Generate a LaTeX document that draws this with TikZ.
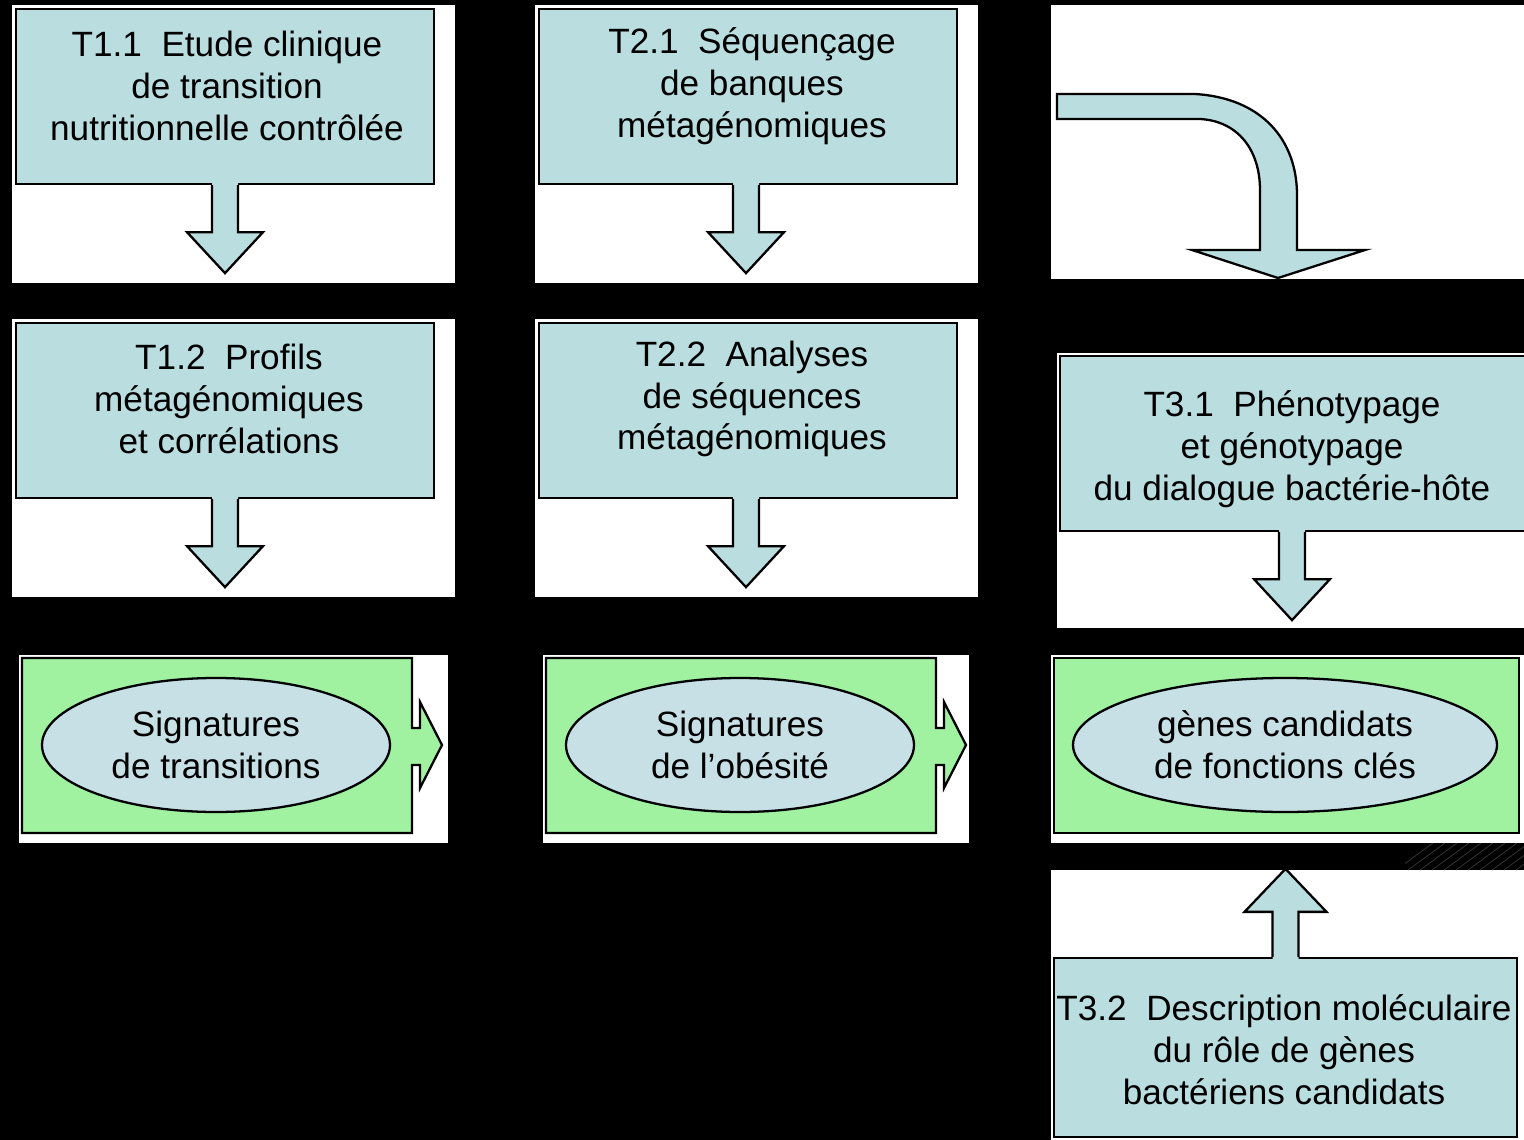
\documentclass[tikz,border=0pt]{standalone}
\usepackage{fontspec}
\setmainfont{Liberation Sans}
\usetikzlibrary{shapes.geometric}
\definecolor{taskblue}{RGB}{186,221,224}
\definecolor{siggreen}{RGB}{160,242,160}
\definecolor{ellblue}{RGB}{198,224,230}

\begin{document}
\begin{tikzpicture}[x=0.2mm, y=-0.2mm, line width=1.3pt,
    every node/.style={font=\fontsize{20}{23.8}\selectfont, align=center, inner sep=0pt},
    taskbox/.style={draw, fill=taskblue, minimum height=35mm},
    sigell/.style={ellipse, draw, fill=ellblue, minimum height=26.8mm}]
    \useasboundingbox (0,0) rectangle (1524,1140);
    \fill[black] (0,0) rectangle (1524,1140);

    % white panels behind each step
    \foreach \a/\b/\c/\d in {12/5/455/283, 535/5/978/283, 1051/5/1524/279,
                             12/319/455/597, 535/319/978/597, 1057/353/1524/628,
                             19/655/448/843, 543/655/969/843, 1051/655/1524/843,
                             1051/870/1524/1140} {
        \fill[white] (\a,\b) rectangle (\c,\d);
    }

    % faint hatching in the black band
    \begin{scope}
        \clip (1405,843) rectangle (1524,870);
        \foreach \x in {1396,1408,...,1540} {
            \draw[gray!45!black, line width=0.4pt] (\x,870) -- ++(37,-27);
        }
    \end{scope}

    % task boxes
    \node[taskbox, minimum width=83.6mm] (t11) at (225,96.5) {};
    \node[taskbox, minimum width=83.6mm] (t21) at (748,96.5) {};
    \node[taskbox, minimum width=83.6mm] (t12) at (225,410.5) {};
    \node[taskbox, minimum width=83.6mm] (t22) at (748,410.5) {};
    \node[taskbox, minimum width=94mm] (t31) at (1295,443.5) {};
    \node[taskbox, minimum width=92.6mm, minimum height=35.8mm] (t32) at (1285.5,1047.5) {};

    \node (t11txt) at (227,86) {T1.1\ \ Etude clinique\\de transition\\nutritionnelle contrôlée};
    \node (t21txt) at (752,86) {T2.1\ \ Séquençage\\de banques\\métagénomiques};
    \node (t12txt) at (229,399) {T1.2\ \ Profils\\métagénomiques\\et corrélations};
    \node (t22txt) at (752,399) {T2.2\ \ Analyses\\de séquences\\métagénomiques};
    \node (t31txt) at (1292,449) {T3.1\ \ Phénotypage\\et génotypage\\du dialogue bactérie-hôte};
    \node (t32txt) at (1284,1050) {T3.2\ \ Description moléculaire\\du rôle de gènes\\bactériens candidats};

    % block arrows under the task boxes
    \foreach \n/\dx in {t11/0,t21/-2,t12/0,t22/-2,t31/-3} {
        \begin{scope}[shift={(\n.south)}, xshift=\dx*0.2mm]
            \fill[taskblue] (-13,-3) -- (-13,47) -- (-38,47) -- (0,88) -- (38,47) -- (13,47) -- (13,-3) -- cycle;
            \draw (-13,0) -- (-13,47) -- (-38,47) -- (0,88) -- (38,47) -- (13,47) -- (13,0);
        \end{scope}
    }

    % arrow up from T3.2
    \begin{scope}[shift={(t32.north)}]
        \fill[taskblue] (-13,3) -- (-13,-45) -- (-41,-45) -- (0,-88) -- (41,-45) -- (13,-45) -- (13,3) -- cycle;
        \draw (-13,0) -- (-13,-45) -- (-41,-45) -- (0,-88) -- (41,-45) -- (13,-45) -- (13,0);
    \end{scope}

    % bent arrow top right
    \filldraw[fill=taskblue] (1057,94) -- (1195,94) .. controls (1262,98) and (1297,140) .. (1297,195)
        -- (1297,250) -- (1365,250) -- (1278,278) -- (1192,250) -- (1260,250) -- (1260,190)
        .. controls (1260,150) and (1238,121) .. (1200,119) -- (1057,119) -- cycle;

    % green result boxes with arrow notch
    \foreach \dx in {0,524} {
        \filldraw[fill=siggreen, shift={(\dx,0)}] (22,658) -- (412,658) -- (412,728) -- (420,728)
            -- (420,702) -- (442,745) -- (420,788) -- (420,765) -- (412,765) -- (412,833)
            -- (22,833) -- cycle;
    }
    \node[draw, fill=siggreen, minimum width=93mm, minimum height=35mm] (g3) at (1286.5,745.5) {};

    \node[sigell, minimum width=69.6mm] (sig1) at (216,745) {Signatures\\de transitions};
    \node[sigell, minimum width=69.6mm] (sig2) at (740,745) {Signatures\\de l'obésité};
    \node[sigell, minimum width=84.8mm] (sig3) at (1285,745) {gènes candidats\\de fonctions clés};
\end{tikzpicture}
\end{document}
